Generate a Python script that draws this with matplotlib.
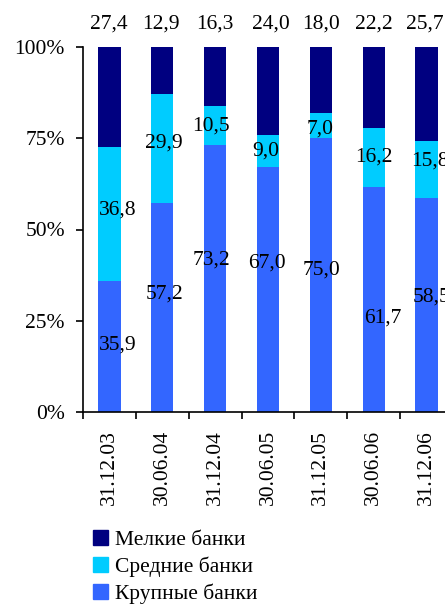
import matplotlib
matplotlib.use("Agg")
import matplotlib.pyplot as plt
from matplotlib.patches import Patch

plt.rcParams["font.family"] = ["Liberation Serif", "DejaVu Serif"]

dates = ["31.12.03", "30.06.04", "31.12.04", "30.06.05", "31.12.05", "30.06.06", "31.12.06"]
large = [35.9, 57.2, 73.2, 67.0, 75.0, 61.7, 58.5]
medium = [36.8, 29.9, 10.5, 9.0, 7.0, 16.2, 15.8]
small = [27.4, 12.9, 16.3, 24.0, 18.0, 22.2, 25.7]

# label nudges in pixels (dx, dy) from the middle of each segment
large_nudge = [(8, 1), (2, 14), (-4, 18), (-1, 27), (1, 5), (9, -19), (5, 8)]
medium_nudge = [(8, 4), (2, 6), (-4, 0), (-2, 0), (-1, -4), (0, 0), (3, 9)]
small_nudge = [(-1, 23), (-1, 23), (0, 23), (3, 23), (0, 23), (0, 23), (-2, 23)]

C_LARGE = "#3366FF"
C_MEDIUM = "#00CCFF"
C_SMALL = "#000080"

fig = plt.figure(figsize=(4.45, 6.05), dpi=100)
ax = fig.add_axes([83 / 445, 193 / 605, 370 / 445, 365 / 605])

x = list(range(len(dates)))
w = 0.42
bottom_med = large
bottom_small = [a + b for a, b in zip(large, medium)]
ax.bar(x, large, w, color=C_LARGE)
ax.bar(x, medium, w, bottom=bottom_med, color=C_MEDIUM)
ax.bar(x, small, w, bottom=bottom_small, color=C_SMALL)


def fmt(v):
    return f"{v:.1f}".replace(".", ",")


fs = 15.5
for i in x:
    ax.annotate(fmt(large[i]), (i, large[i] / 2), xytext=large_nudge[i],
                textcoords="offset pixels", ha="center", va="center", fontsize=fs)
    ax.annotate(fmt(medium[i]), (i, large[i] + medium[i] / 2), xytext=medium_nudge[i],
                textcoords="offset pixels", ha="center", va="center", fontsize=fs)
    ax.annotate(fmt(small[i]), (i, 100), xytext=small_nudge[i],
                textcoords="offset pixels", ha="center", va="center", fontsize=fs,
                annotation_clip=False)

ax.set_xlim(-0.5, 6.5)
ax.set_ylim(0, 100)
ax.set_yticks([0, 25, 50, 75, 100])
ax.set_yticklabels(["0%", "25%", "50%", "75%", "100%"])
ax.set_xticks(x)
ax.set_xticklabels(dates, rotation=90)
ax.set_xticks([i - 0.5 for i in range(len(dates) + 1)], minor=True)
ax.tick_params(axis="x", which="major", length=0, pad=13, labelsize=15.5)
ax.tick_params(axis="x", which="minor", length=5, width=1.2, direction="out")
ax.tick_params(axis="y", length=5, width=1.2, pad=8, labelsize=15.5)
for s in ["top", "right"]:
    ax.spines[s].set_visible(False)
for s in ["left", "bottom"]:
    ax.spines[s].set_linewidth(1.2)

handles = [Patch(color=C_SMALL), Patch(color=C_MEDIUM), Patch(color=C_LARGE)]
labels = ["Мелкие банки", "Средние банки", "Крупные банки"]
fig.legend(handles, labels, loc="upper left", bbox_to_anchor=(93 / 445, 1 - 530 / 605),
           frameon=False, fontsize=15.5, handlelength=0.7, handleheight=0.7,
           handletextpad=0.3, labelspacing=0.3, borderpad=0, borderaxespad=0)

fig.savefig("out.png", dpi=100)
